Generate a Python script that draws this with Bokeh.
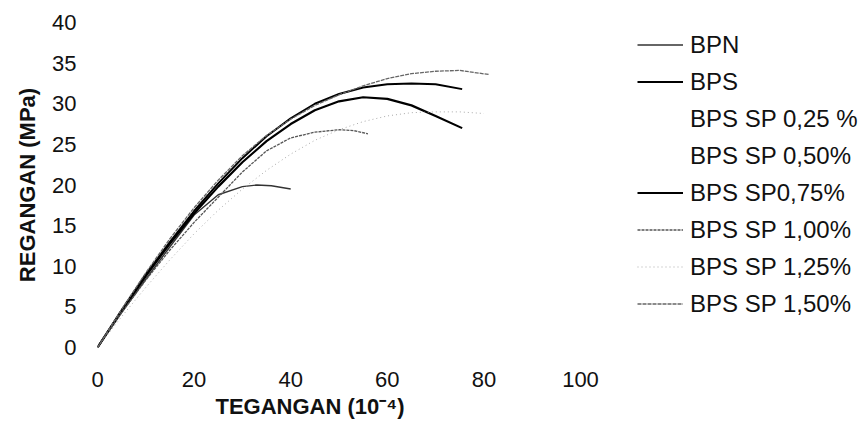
from bokeh.plotting import figure
from bokeh.models import Legend, LegendItem, FixedTicker, Range1d, Title
from bokeh.embed import file_html
from bokeh.resources import INLINE

# ---- data ----
x_ticks = [0, 20, 40, 60, 80, 100]
y_ticks = [0, 5, 10, 15, 20, 25, 30, 35, 40]

bpn_x = [0, 5, 10, 15, 20, 25, 30, 33, 36, 40]
bpn_y = [0, 4.3, 8.4, 12.4, 16.3, 18.8, 19.8, 20.0, 19.9, 19.5]

bps_x = [0, 5, 10, 15, 20, 25, 30, 35, 40, 45, 50, 55, 60, 65, 70, 75.5]
bps_y = [0, 4.5, 8.8, 12.8, 16.5, 19.8, 22.8, 25.4, 27.5, 29.2, 30.3, 30.8, 30.6, 29.8, 28.5, 27.0]

sp025_x = []
sp025_y = []
sp050_x = []
sp050_y = []

sp075_x = [0, 5, 10, 15, 20, 25, 30, 35, 40, 45, 50, 55, 60, 65, 70, 75.5]
sp075_y = [0, 4.6, 9.0, 13.0, 16.8, 20.2, 23.3, 26.0, 28.2, 30.0, 31.2, 32.0, 32.4, 32.5, 32.4, 31.8]

sp100_x = [0, 5, 10, 15, 20, 25, 30, 35, 40, 45, 50, 53, 56]
sp100_y = [0, 4.3, 8.3, 12.0, 15.4, 18.5, 21.6, 24.2, 25.8, 26.5, 26.8, 26.7, 26.3]

sp125_x = [0, 5, 10, 15, 20, 25, 30, 35, 40, 45, 50, 55, 60, 65, 70, 75, 80]
sp125_y = [0, 3.8, 7.4, 10.8, 14.0, 16.9, 19.5, 21.8, 23.8, 25.5, 26.8, 27.8, 28.5, 28.9, 29.0, 29.0, 28.8]

sp150_x = [0, 5, 10, 15, 20, 25, 30, 35, 40, 45, 50, 55, 60, 65, 70, 75, 81]
sp150_y = [0, 4.7, 9.2, 13.4, 17.2, 20.6, 23.6, 26.1, 28.1, 29.8, 31.1, 32.2, 33.1, 33.7, 34.0, 34.1, 33.6]

labels = ["BPN", "BPS", "BPS SP 0,25 %", "BPS SP 0,50%", "BPS SP0,75%",
          "BPS SP 1,00%", "BPS SP 1,25%", "BPS SP 1,50%"]
x_title = "TEGANGAN (10\u207b\u2074)"
y_title = "REGANGAN (MPa)"

FONT = "Liberation Sans"

p = figure(frame_width=483, frame_height=325, output_backend="svg", toolbar_location=None,
           x_range=Range1d(0, 100), y_range=Range1d(0, 40),
           min_border_left=97, min_border_right=0, min_border_top=22,
           min_border_bottom=80)
p.outline_line_color = None
p.grid.visible = False
p.background_fill_color = "white"
p.border_fill_color = "white"

for ax in (p.xaxis[0], p.yaxis[0]):
    ax.axis_line_color = None
    ax.major_tick_line_color = None
    ax.minor_tick_line_color = None
    ax.major_label_text_font = FONT
    ax.major_label_text_font_size = "22px"
    ax.major_label_text_color = "#111111"
    ax.axis_label_text_font = FONT
    ax.axis_label_text_font_size = "22px"
    ax.axis_label_text_font_style = "bold"
    ax.axis_label_text_color = "#111111"

p.xaxis.ticker = FixedTicker(ticks=x_ticks)
p.yaxis.ticker = FixedTicker(ticks=y_ticks)
p.xaxis.major_label_standoff = 18
p.yaxis.major_label_standoff = 15
p.yaxis.axis_label = y_title
p.yaxis.axis_label_standoff = 9

xt = Title(text=x_title, align="left", offset=118, standoff=4,
           text_font=FONT, text_font_size="22px", text_font_style="bold",
           text_color="#111111")
p.add_layout(xt, "below")

r_bpn = p.line(bpn_x, bpn_y, line_color="#333333", line_width=1.4)
r_bps = p.line(bps_x, bps_y, line_color="#000000", line_width=2.2)
r_025 = p.line(sp025_x, sp025_y, line_color="#f2f2f2", line_width=1)
r_050 = p.line(sp050_x, sp050_y, line_color="#f2f2f2", line_width=1)
r_075 = p.line(sp075_x, sp075_y, line_color="#000000", line_width=1.9)
r_100 = p.line(sp100_x, sp100_y, line_color="#555555", line_width=1.3, line_dash="3 1")
r_125 = p.line(sp125_x, sp125_y, line_color="#aaaaaa", line_width=1, line_dash="1 3")
r_150 = p.line(sp150_x, sp150_y, line_color="#666666", line_width=1.3, line_dash="4 1")

renderers = [r_bpn, r_bps, r_025, r_050, r_075, r_100, r_125, r_150]
items = [LegendItem(label=l, renderers=[r]) for l, r in zip(labels, renderers)]

legend = Legend(items=items, location=(57, 29), border_line_color=None,
                background_fill_alpha=0, padding=0, margin=0,
                glyph_width=46, glyph_height=29, label_height=29,
                spacing=8, label_standoff=7,
                label_text_font=FONT, label_text_font_size="24px",
                label_text_color="#111111")
p.add_layout(legend, "right")

open("out.html", "w").write(file_html(p, INLINE))
